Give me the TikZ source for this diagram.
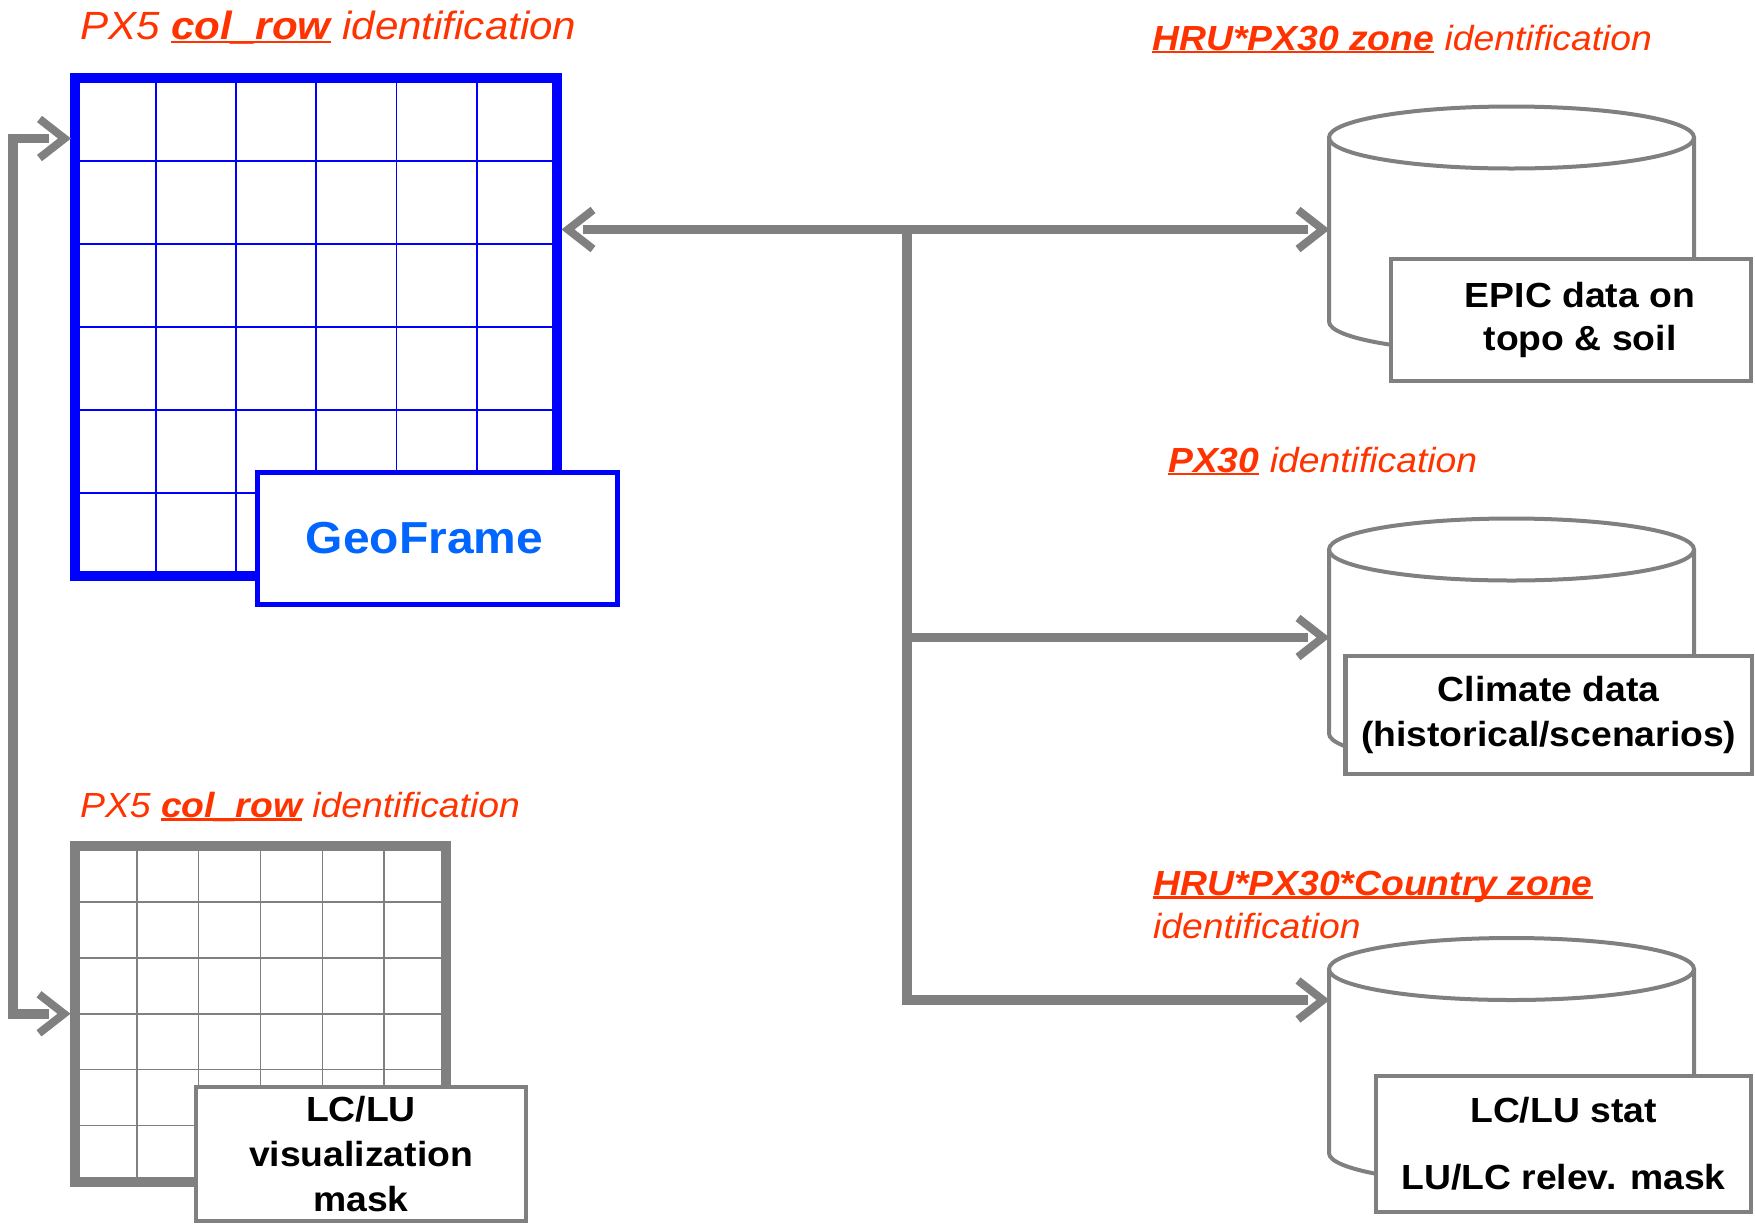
\documentclass[tikz,border=0pt]{standalone}
\usepackage{fontspec}
\setmainfont{Liberation Sans}[FakeStretch=1.07]
\usetikzlibrary{arrows.meta,calc}

\definecolor{cgray}{RGB}{128,128,128}
\definecolor{corange}{RGB}{255,51,0}
\definecolor{cblue}{RGB}{0,0,255}
\definecolor{cgeo}{RGB}{0,102,255}

% underline with a rule proportional to the font size
\newcommand\undl[1]{\setbox0=\hbox{#1}\rlap{\rule[-0.1em]{\wd0}{0.07em}}\box0\relax}

% open chevron tip; the shaft stops short of the apex
\pgfdeclarearrow{
  name = Chev,
  parameters = {chev},
  setup code = {
    \pgfarrowssettipend{0pt}
    \pgfarrowssetlineend{-21bp}
    \pgfarrowssetbackend{-31bp}
  },
  drawing code = {
    \pgfsetlinewidth{8bp}
    \pgfsetbuttcap
    \pgfsetmiterjoin
    \pgfpathmoveto{\pgfpoint{-31bp}{19.5bp}}
    \pgfpathlineto{\pgfpoint{-6bp}{0bp}}
    \pgfpathlineto{\pgfpoint{-31bp}{-19.5bp}}
    \pgfusepathqstroke
  }
}

\tikzset{
  conn/.style={draw=cgray, line width=9.5bp},
  gridframe/.style={line width=10bp, inner sep=0pt, fill=white},
  thinline/.style={line width=1.6bp},
  graybox/.style={draw=cgray, line width=4.5bp, fill=white, inner sep=0pt,
    align=center, text=black},
  titletext/.style={text=corange, inner sep=0pt, anchor=base west},
  cylline/.style={draw=cgray, line width=4bp},
  cylbody/.style={inner sep=0pt, outer sep=0pt, minimum width=365bp, minimum height=246bp},
  dbcyl/.pic={
    \node[cylbody] (-body) at (0,0) {};
    \draw[cylline] (-182.5,-92) -- (-182.5,92)
      .. controls (-182.5,109.1) and (-100.8,123) .. (0,123)
      .. controls (100.8,123) and (182.5,109.1) .. (182.5,92) -- (182.5,-92);
    \draw[cylline] (0,-92) ellipse [x radius=182.5, y radius=31];
  }
}

\begin{document}
\begin{tikzpicture}[x=1bp, y=-1bp]
\useasboundingbox[fill=white] (0,0) rectangle (1755,1225);

% ---- GeoFrame grid ----
\node[gridframe, draw=cblue, minimum width=481.5bp, minimum height=498bp] (gridA) at (316.25,327) {};
\foreach \d in {-160.5,-80.25,0,80.25,160.5}
  \draw[thinline, cblue] ($(gridA.north)+(\d,0)$) -- ($(gridA.south)+(\d,0)$);
\foreach \d in {-166,-83,0,83,166}
  \draw[thinline, cblue] ($(gridA.west)+(0,\d)$) -- ($(gridA.east)+(0,\d)$);
\node[draw=cblue, line width=5bp, fill=white, inner sep=0pt,
      minimum width=360bp, minimum height=132bp, text=cgeo,
      font=\fontsize{45}{54}\selectfont\bfseries] (geo) at (437.5,538.5) {GeoFrame\hspace*{26bp}};

% ---- LC/LU visualization grid ----
\node[gridframe, draw=cgray, minimum width=371bp, minimum height=335.5bp] (gridB) at (260.5,1013.75) {};
\foreach \d in {-123.67,-61.83,0,61.83,123.67}
  \draw[thinline, cgray] ($(gridB.north)+(\d,0)$) -- ($(gridB.south)+(\d,0)$);
\foreach \d in {-111.83,-55.92,0,55.92,111.83}
  \draw[thinline, cgray] ($(gridB.west)+(0,\d)$) -- ($(gridB.east)+(0,\d)$);
\node[graybox, minimum width=330bp, minimum height=134bp,
      font=\fontsize{35}{45}\selectfont\bfseries] (lcvis) at (361,1154)
  {LC/LU\\visualization\\mask};

% ---- databases ----
\pic (cylA) at (1511.5,229.5) {dbcyl};
\pic (cylB) at (1511.5,641.5) {dbcyl};
\pic (cylC) at (1511.5,1061) {dbcyl};

\node[graybox, minimum width=360bp, minimum height=122bp,
      font=\fontsize{35}{43.5}\selectfont\bfseries] (epic) at (1571,320)
  {\hspace*{18bp}EPIC data on\\\hspace*{18bp}topo \& soil};
\node[graybox, minimum width=406.5bp, minimum height=118bp,
      font=\fontsize{35}{45}\selectfont\bfseries] (climate) at (1548.75,715)
  {Climate data\\(historical/scenarios)};
\node[graybox, minimum width=375bp, minimum height=136bp,
      font=\fontsize{35}{67}\selectfont\bfseries] (lcstat) at (1563.5,1144)
  {LC/LU stat\\LU/LC relev. mask};

% ---- headings ----
\node[titletext, font=\fontsize{39.5}{47}\selectfont\itshape] (t1) at (80,39.5)
  {PX5 \undl{\textbf{col\_row}} identification};
\node[titletext, font=\fontsize{35}{42}\selectfont\itshape] (t2) at (80,817)
  {PX5 \undl{\textbf{col\_row}} identification};
\node[titletext, font=\fontsize{35}{42}\selectfont\itshape] (t3) at (1152,50)
  {\undl{\textbf{HRU*PX30 zone}} identification};
\node[titletext, font=\fontsize{35}{42}\selectfont\itshape] (t4) at (1168,472)
  {\undl{\textbf{PX30}} identification};
\node[titletext, font=\fontsize{35}{42}\selectfont\itshape] (t5) at (1153,895)
  {\undl{\textbf{HRU*PX30*Country zone}}};
\node[titletext, font=\fontsize{35}{42}\selectfont\itshape] (t5b) at (1153,938)
  {identification};

% ---- connectors ----
\coordinate (jtop) at (907,229.5);
\coordinate (jmid) at (907,637.5);
\coordinate (jbot) at (907,1000);
\coordinate (loopTop) at (13,138.5);

\draw[conn, {Chev}-{Chev}] (gridA.east |- cylA-body.west) -- (cylA-body.west);
\draw[conn, -{Chev}] (jtop) -- (jbot) -- (jbot -| cylC-body.west);
\draw[conn, -{Chev}] (jmid) -- (jmid -| cylB-body.west);
\draw[conn, {Chev}-{Chev}] (gridA.west |- loopTop) -- (loopTop) |- (gridB.west);
\end{tikzpicture}
\end{document}
